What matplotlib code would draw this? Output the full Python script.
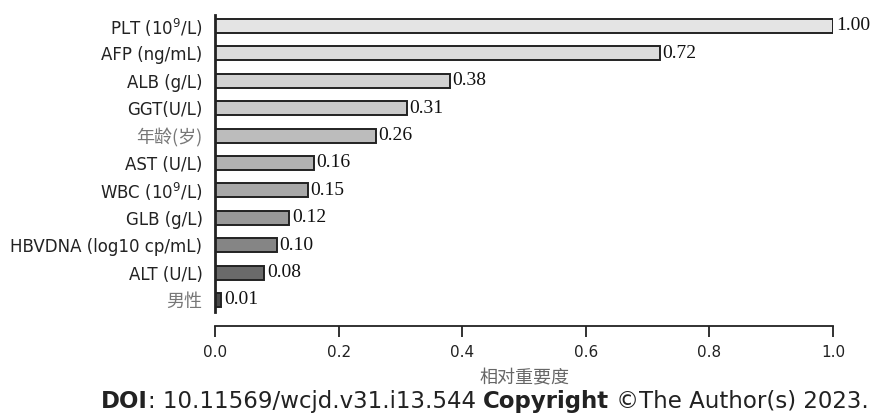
import matplotlib
matplotlib.use("Agg")
import matplotlib.pyplot as plt
from matplotlib.transforms import offset_copy
from matplotlib.offsetbox import TextArea, HPacker, AnchoredOffsetbox

categories = ["PLT (10$^9$/L)", "AFP (ng/mL)", "ALB (g/L)", "GGT(U/L)", "年龄(岁)",
              "AST (U/L)", "WBC (10$^9$/L)", "GLB (g/L)", "HBVDNA (log10 cp/mL)",
              "ALT (U/L)", "男性"]
values = [1.00, 0.72, 0.38, 0.31, 0.26, 0.16, 0.15, 0.12, 0.10, 0.08, 0.01]
value_labels = ["1.00", "0.72", "0.38", "0.31", "0.26", "0.16", "0.15", "0.12", "0.10", "0.08", "0.01"]
colors = ["#e4e4e4", "#dcdcdc", "#d2d2d2", "#cacaca", "#bcbcbc", "#b2b2b2",
          "#a8a8a8", "#999999", "#858585", "#6a6a6a", "#4a4a4a"]
cjk = {"年龄(岁)", "男性"}
xticks = [0.0, 0.2, 0.4, 0.6, 0.8, 1.0]
xlabel = "相对重要度"
footer = [("DOI", 'bold'), (": 10.11569/wcjd.v31.i13.544 ", 'normal'),
          ("Copyright", 'bold'), (" ©The Author(s) 2023.", 'normal')]

plt.rcParams['font.family'] = ['DejaVu Sans', 'Noto Sans CJK SC']

W, H = 874, 415
fig = plt.figure(figsize=(W / 100, H / 100), dpi=100)
ax = fig.add_axes([215 / W, 1 - 312 / H, (833 - 215) / W, (312 - 15) / H])

n = len(categories)
ypos = [n - 1 - i for i in range(n)]
ax.barh(ypos, values, height=0.51, color=colors, edgecolor="#222222", linewidth=1.4)

ax.set_xlim(0, 1.0)
ax.set_ylim(-0.44, n - 1 + 0.40)

tr = offset_copy(ax.transData, fig=fig, x=2, y=0, units='points')
for y, v, lab in zip(ypos, values, value_labels):
    ax.text(v, y, lab, transform=tr, va='center', ha='left',
            family='Liberation Serif', fontsize=14, color='#111111')

ax.tick_params(axis='y', length=0, pad=9, labelsize=12)
ax.tick_params(axis='x', length=8, width=1.3, direction='out', pad=5.5,
               color='#222222', labelsize=11, labelcolor='#222222')

ax.set_yticks(ypos)
ax.set_yticklabels(categories)
for t, c in zip(ax.get_yticklabels(), categories):
    if c in cjk:
        t.set_family(['Noto Sans CJK SC', 'DejaVu Sans'])
        t.set_fontsize(13)
        t.set_color('#777777')
    else:
        t.set_color('#222222')

ax.set_xticks(xticks)
ax.set_xticklabels([f"{x:.1f}" for x in xticks])

for s in ['top', 'right']:
    ax.spines[s].set_visible(False)
ax.spines['left'].set_linewidth(2)
ax.spines['left'].set_color('#222222')
ax.spines['bottom'].set_position(('outward', 10))
ax.spines['bottom'].set_bounds(0, 1)
ax.spines['bottom'].set_linewidth(1.3)
ax.spines['bottom'].set_color('#222222')

ax.set_xlabel(xlabel, family=['Noto Sans CJK SC', 'DejaVu Sans'], fontsize=13,
              color='#666666', labelpad=7)

boxes = [TextArea(t, textprops=dict(fontsize=16.5, fontweight=w, color='#222222'))
         for t, w in footer]
pack = HPacker(children=boxes, align='baseline', pad=0, sep=0)
ab = AnchoredOffsetbox(loc='center', child=pack, frameon=False,
                       bbox_to_anchor=(485 / W, 1 - 401 / H), bbox_transform=fig.transFigure,
                       borderpad=0, pad=0)
fig.add_artist(ab)

fig.savefig("out.png", dpi=100)
